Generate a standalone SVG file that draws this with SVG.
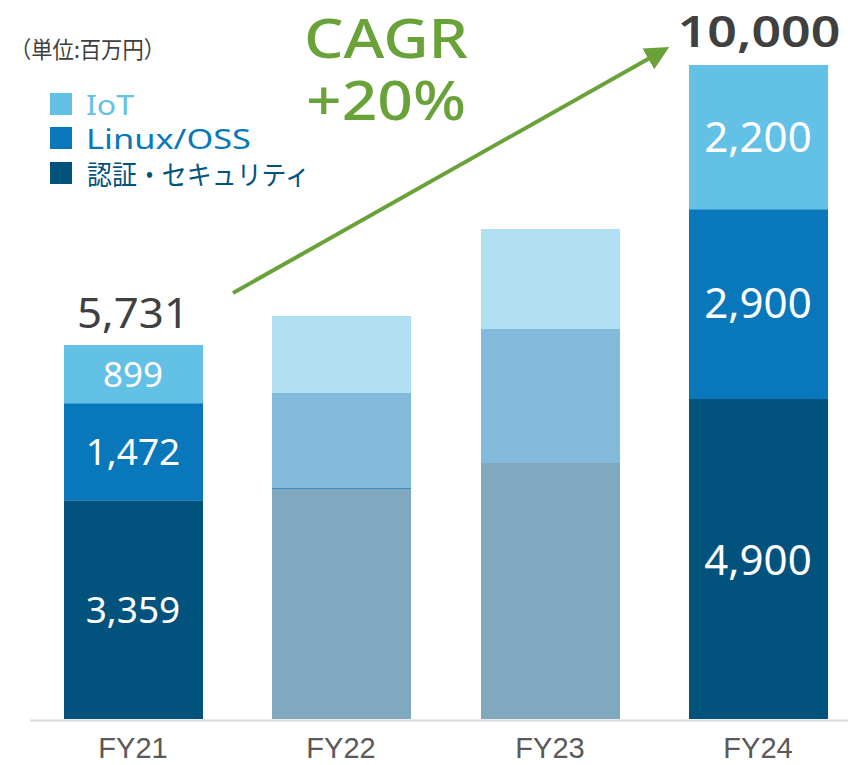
<svg xmlns="http://www.w3.org/2000/svg" width="848" height="765" viewBox="0 0 848 765">
<style>
.num{font-family:"Noto Sans","Open Sans",sans-serif;fill:#fff;text-anchor:middle}
.tot{font-family:"Noto Sans","Open Sans",sans-serif;fill:#404040;text-anchor:middle}
.ax{font-family:"Liberation Sans",Arial,sans-serif;fill:#595959;text-anchor:middle;font-size:29px}
.leg{font-family:"Noto Sans","Noto Sans CJK JP",sans-serif;font-size:27px}
.iot{fill:#62C1E5}.lin{fill:#0878BA}.sec{fill:#02527E}
.iotf{fill:#B1E0F2}.linf{fill:#83B9DA}.secf{fill:#80A8BF}
.cagr{font-family:"Noto Sans","Open Sans",sans-serif;fill:#6AA23A;text-anchor:middle;font-size:54px;font-weight:500}
</style>
<defs>
<marker id="ah" markerWidth="6" markerHeight="6" refX="4.5" refY="3" orient="auto" markerUnits="strokeWidth">
<path d="M0,0 L6,3 L0,6 Z" fill="#6AA23A"/>
</marker>
</defs>
<rect width="848" height="765" fill="#fff"/>
<text x="10" y="58" font-family="'Noto Sans CJK JP',sans-serif" font-size="23" fill="#404040" textLength="155" lengthAdjust="spacingAndGlyphs">（単位:百万円）</text>
<g id="legend">
<rect x="50" y="93" width="22" height="22" class="iot"/>
<text x="86" y="115" class="leg iot" textLength="48" lengthAdjust="spacingAndGlyphs">IoT</text>
<rect x="50" y="127" width="22" height="22" class="lin"/>
<text x="86" y="149" class="leg lin" textLength="165" lengthAdjust="spacingAndGlyphs">Linux/OSS</text>
<rect x="50" y="162" width="22" height="22" class="sec"/>
<text x="87" y="185" class="leg sec" font-family="'Noto Sans CJK JP',sans-serif" font-size="25" textLength="223" lengthAdjust="spacingAndGlyphs">認証・セキュリティ</text>
</g>
<g id="fy21">
<rect x="64" y="345" width="139" height="58" class="iot"/>
<rect x="64" y="403" width="139" height="98" class="lin"/>
<rect x="64" y="501" width="139" height="218" class="sec"/>
<line x1="64" y1="403.5" x2="203" y2="403.5" stroke="#3A9BD0" stroke-width="1"/>
<line x1="64" y1="500.5" x2="203" y2="500.5" stroke="#2A80B5" stroke-width="1"/>
<text x="133" y="387" class="num" font-size="35">899</text>
<text x="133" y="465" class="num" font-size="37">1,472</text>
<text x="133" y="623" class="num" font-size="37">3,359</text>
<text x="133" y="328" class="tot" font-size="42" textLength="112" lengthAdjust="spacingAndGlyphs">5,731</text>
</g>
<g id="fy22">
<rect x="272" y="316" width="139" height="77" class="iotf"/>
<rect x="272" y="393" width="139" height="95" class="linf"/>
<rect x="272" y="488" width="139" height="231" class="secf"/>
<line x1="272" y1="488.5" x2="411" y2="488.5" stroke="#3A8FC0" stroke-width="1"/>
</g>
<g id="fy23">
<rect x="481" y="229" width="139" height="100" class="iotf"/>
<rect x="481" y="329" width="139" height="134" class="linf"/>
<rect x="481" y="463" width="139" height="256" class="secf"/>
</g>
<g id="fy24">
<rect x="689" y="65" width="139" height="144" class="iot"/>
<rect x="689" y="209" width="139" height="190" class="lin"/>
<rect x="689" y="399" width="139" height="320" class="sec"/>
<line x1="689" y1="209.5" x2="828" y2="209.5" stroke="#3A9BD0" stroke-width="1"/>
<text x="758" y="152" class="num" font-size="42">2,200</text>
<text x="758" y="318" class="num" font-size="42">2,900</text>
<text x="758" y="575" class="num" font-size="42">4,900</text>
<text x="759" y="47" class="tot" font-size="44" font-weight="600" textLength="163" lengthAdjust="spacingAndGlyphs">10,000</text>
</g>
<g id="axis">
<line x1="30" y1="720.5" x2="848" y2="720.5" stroke="#D9D9D9" stroke-width="2"/>
<text x="133" y="758" class="ax">FY21</text>
<text x="341" y="758" class="ax">FY22</text>
<text x="550" y="758" class="ax">FY23</text>
<text x="758" y="758" class="ax">FY24</text>
</g>
<g id="connectors">
<line x1="233" y1="293" x2="664" y2="50" stroke="#6AA23A" stroke-width="4" marker-end="url(#ah)"/>
</g>
<g id="cagr">
<text x="386" y="58" class="cagr" textLength="164" lengthAdjust="spacingAndGlyphs">CAGR</text>
<text x="386" y="120" class="cagr" textLength="160" lengthAdjust="spacingAndGlyphs">+20%</text>
</g>
</svg>
